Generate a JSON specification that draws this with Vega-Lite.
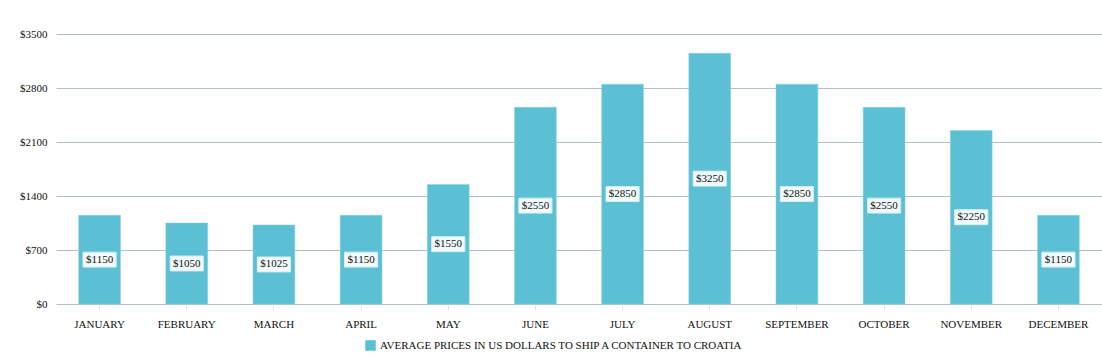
{
  "$schema": "https://vega.github.io/schema/vega-lite/v6.json",
  "width": 1046,
  "height": 270,
  "autosize": {"type": "none"},
  "padding": {"left": 56, "top": 34, "right": 0, "bottom": 58},
  "background": "white",
  "config": {
    "font": "Liberation Serif",
    "view": {"stroke": null}
  },
  "data": {
    "values": [
      {"month": "JANUARY", "price": 1150},
      {"month": "FEBRUARY", "price": 1050},
      {"month": "MARCH", "price": 1025},
      {"month": "APRIL", "price": 1150},
      {"month": "MAY", "price": 1550},
      {"month": "JUNE", "price": 2550},
      {"month": "JULY", "price": 2850},
      {"month": "AUGUST", "price": 3250},
      {"month": "SEPTEMBER", "price": 2850},
      {"month": "OCTOBER", "price": 2550},
      {"month": "NOVEMBER", "price": 2250},
      {"month": "DECEMBER", "price": 1150}
    ]
  },
  "encoding": {
    "x": {
      "field": "month",
      "type": "nominal",
      "sort": null,
      "scale": {"paddingInner": 0.52, "paddingOuter": 0.26},
      "axis": {
        "title": null,
        "labelAngle": 0,
        "labelFont": "Liberation Serif",
        "labelFontSize": 11,
        "labelColor": "#111",
        "labelPadding": 8,
        "domain": false,
        "ticks": true,
        "tickColor": "#dde3e6",
        "tickSize": 6,
        "grid": false
      }
    }
  },
  "layer": [
    {
      "mark": {"type": "bar", "color": "#5bc0d3", "stroke": "#8fd3e0", "strokeWidth": 0.5},
      "encoding": {
        "y": {
          "field": "price",
          "type": "quantitative",
          "scale": {"domain": [0, 3500], "nice": false},
          "axis": {
            "title": null,
            "values": [0, 700, 1400, 2100, 2800, 3500],
            "format": "$d",
            "labelFont": "Liberation Serif",
            "labelFontSize": 11,
            "labelColor": "#111",
            "labelPadding": 9,
            "domain": false,
            "ticks": false,
            "grid": true,
            "gridColor": "#b3c0c6",
            "gridWidth": 1.2
          }
        },
        "color": {
          "datum": "AVERAGE PRICES IN US DOLLARS TO SHIP A CONTAINER TO CROATIA",
          "type": "nominal",
          "scale": {"range": ["#5bc0d3"]},
          "legend": {
            "title": null,
            "orient": "none",
            "legendX": 309,
            "legendY": 306,
            "direction": "horizontal",
            "symbolType": "square",
            "symbolSize": 110,
            "symbolStrokeWidth": 0,
            "labelFont": "Liberation Serif",
            "labelFontSize": 11,
            "labelColor": "#111",
            "labelLimit": 0
          }
        }
      }
    },
    {
      "layer": [
        {
          "mark": {
            "type": "point",
            "shape": "M-1,-0.45L1,-0.45L1,0.45L-1,0.45Z",
            "size": 1100,
            "filled": true,
            "fill": "white",
            "fillOpacity": 0.92,
            "stroke": "#d6eef3",
            "strokeWidth": 1,
            "opacity": 1
          },
          "encoding": {
            "y": {
              "field": "price",
              "type": "quantitative",
              "scale": {"domain": [0, 7000], "nice": false},
              "axis": null
            }
          }
        },
        {
          "mark": {
            "type": "text",
            "font": "Liberation Serif",
            "fontSize": 11,
            "color": "#111",
            "baseline": "middle",
            "align": "center"
          },
          "encoding": {
            "y": {
              "field": "price",
              "type": "quantitative",
              "scale": {"domain": [0, 7000], "nice": false},
              "axis": null
            },
            "text": {"field": "price", "type": "quantitative", "format": "$d"}
          }
        }
      ]
    }
  ],
  "resolve": {"scale": {"y": "independent"}}
}
